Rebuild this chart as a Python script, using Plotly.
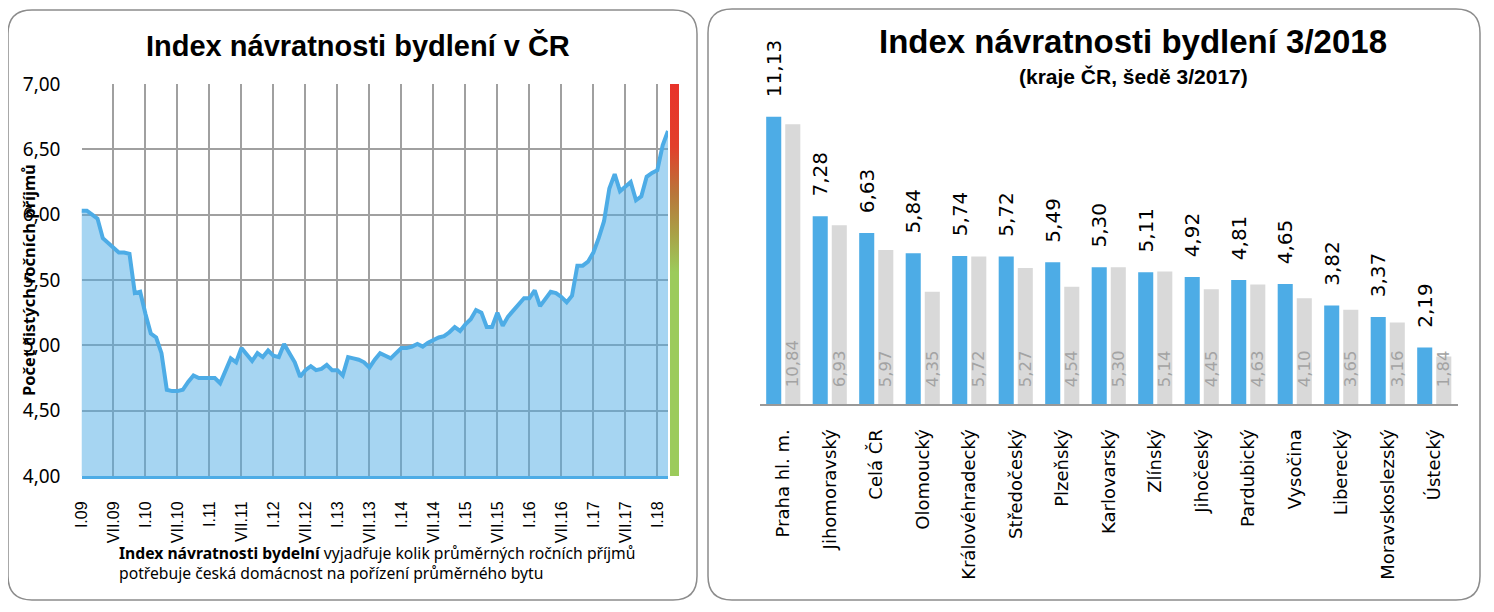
import plotly.graph_objects as go

W, H = 1494, 612
OFF = 8  # page body margin of the browser, figure sits 8px in from the corner

# --- left chart: monthly index I.09 .. III.18
index_monthly = [
    6.03, 6.03, 6.00, 5.97, 5.82, 5.78, 5.74, 5.71, 5.71, 5.70, 5.40, 5.41,
    5.24, 5.09, 5.06, 4.94, 4.66, 4.65, 4.65, 4.66, 4.72, 4.77, 4.75, 4.75,
    4.75, 4.75, 4.71, 4.80, 4.90, 4.87, 4.98, 4.93, 4.88, 4.94, 4.91, 4.96,
    4.92, 4.91, 5.01, 4.94, 4.87, 4.76, 4.81, 4.84, 4.81, 4.82, 4.85, 4.81,
    4.81, 4.77, 4.91, 4.90, 4.89, 4.87, 4.83, 4.89, 4.94, 4.92, 4.90, 4.94,
    4.98, 4.98, 4.99, 5.01, 4.99, 5.02, 5.04, 5.06, 5.07, 5.10, 5.14, 5.11,
    5.16, 5.20, 5.27, 5.25, 5.14, 5.14, 5.25, 5.15, 5.22, 5.27, 5.31, 5.36,
    5.36, 5.42, 5.30, 5.35, 5.41, 5.40, 5.37, 5.33, 5.38, 5.61, 5.61, 5.64,
    5.71, 5.82, 5.95, 6.20, 6.31, 6.18, 6.22, 6.25, 6.11, 6.14, 6.29, 6.32,
    6.34, 6.53, 6.64,
]
month_ticks = ["I.09", "VII.09", "I.10", "VII.10", "I.11", "VII.11", "I.12", "VII.12",
               "I.13", "VII.13", "I.14", "VII.14", "I.15", "VII.15", "I.16", "VII.16",
               "I.17", "VII.17", "I.18"]
y_ticks = [4.0, 4.5, 5.0, 5.5, 6.0, 6.5, 7.0]
band_lo, band_hi = 4.0, 7.0
band_colors = [[0, "#9CCB5B"], [0.52, "#9CCB5B"], [0.62, "#A9A046"],
               [0.72, "#B8763A"], [0.84, "#E2402B"], [1, "#E8332A"]]

# --- right chart: regions 3/2018 vs 3/2017
regions = ["Praha hl. m.", "Jihomoravský", "Celá ČR", "Olomoucký", "Královéhradecký",
           "Středočeský", "Plzeňský", "Karlovarský", "Zlínský", "Jihočeský",
           "Pardubický", "Vysočina", "Liberecký", "Moravskoslezský", "Ústecký"]
idx_2018 = [11.13, 7.28, 6.63, 5.84, 5.74, 5.72, 5.49, 5.30, 5.11, 4.92, 4.81, 4.65, 3.82, 3.37, 2.19]
idx_2017 = [10.84, 6.93, 5.97, 4.35, 5.72, 5.27, 4.54, 5.30, 5.14, 4.45, 4.63, 4.10, 3.65, 3.16, 1.84]

BLUE = "#4DACE6"
GRID = "#A0A0A0"
TITLE = "Liberation Sans Narrow, Arial Narrow, Liberation Sans, sans-serif"
BODY = "Noto Sans, Open Sans, sans-serif"
TICK = "Liberation Sans, Arial, sans-serif"

FW, FH = W - OFF, H - OFF


def px(x):
    return (x - OFF) / FW


def py(y):
    return 1 - (y - OFF) / FH


def rounded_box(x0, y0, x1, y1, r):
    rx, ry = r / FW, r / FH
    a0, a1, b0, b1 = px(x0), px(x1), py(y1), py(y0)
    return (f"M {a0 + rx},{b1} L {a1 - rx},{b1} Q {a1},{b1} {a1},{b1 - ry} "
            f"L {a1},{b0 + ry} Q {a1},{b0} {a1 - rx},{b0} "
            f"L {a0 + rx},{b0} Q {a0},{b0} {a0},{b0 + ry} "
            f"L {a0},{b1 - ry} Q {a0},{b1} {a0 + rx},{b1} Z")


fig = go.Figure()

fig.add_trace(go.Scatter(
    x=list(range(len(index_monthly))), y=index_monthly,
    mode="lines", line=dict(color=BLUE, width=4),
    fill="tozeroy", fillcolor="rgba(77,172,230,0.5)",
    xaxis="x", yaxis="y", showlegend=False, hoverinfo="skip",
))

# red-green scale band right of the line chart
fig.add_trace(go.Scatter(
    x=[0, 1, 1, 0, 0], y=[band_lo, band_lo, band_hi, band_hi, band_lo],
    mode="lines", line=dict(width=0), fill="toself",
    fillgradient=dict(type="vertical", colorscale=band_colors),
    xaxis="x3", yaxis="y", showlegend=False, hoverinfo="skip",
))

# leading no-break/thin spaces push the rotated labels away from the bar end
fig.add_trace(go.Bar(
    x=regions, y=idx_2018, xaxis="x2", yaxis="y2",
    marker=dict(color=BLUE, line=dict(width=0)),
    texttemplate="\u00a0\u00a0\u2009%{y:.2f}", textposition="outside", textangle=-90,
    outsidetextfont=dict(family="DejaVu Sans", size=20, color="black"),
    constraintext="none", cliponaxis=False, showlegend=False, hoverinfo="skip",
))
fig.add_trace(go.Bar(
    x=regions, y=idx_2017, xaxis="x2", yaxis="y2",
    marker=dict(color="#D9D9D9", line=dict(width=0)),
    texttemplate="\u00a0\u00a0\u2009%{y:.2f}", textposition="inside", insidetextanchor="start",
    textangle=-90,
    insidetextfont=dict(family="DejaVu Sans", size=16.5, color="#A3A3A3"),
    constraintext="none", cliponaxis=False, showlegend=False, hoverinfo="skip",
))

fig.update_layout(
    width=FW, height=FH, autosize=False,
    margin=dict(l=0, r=0, t=0, b=0, pad=0, autoexpand=False),
    paper_bgcolor="white", plot_bgcolor="white",
    separators=", ",
    barmode="group", bargap=0.18, bargroupgap=0.21,
    xaxis=dict(
        domain=[px(81.5), px(668)], range=[0, len(index_monthly) - 1],
        tickmode="array", tickvals=list(range(0, 6 * len(month_ticks), 6)), ticktext=month_ticks,
        tickangle=-90, tickfont=dict(family=TICK, size=16, color="black"),
        showgrid=True, gridcolor=GRID, gridwidth=1.5, zeroline=False,
        showline=True, linecolor=BLUE, linewidth=3, ticklabelstandoff=16,
        anchor="y", automargin=False, fixedrange=True,
    ),
    yaxis=dict(
        domain=[py(476), py(84)], range=[band_lo, band_hi],
        tickmode="array", tickvals=y_ticks, tickformat=".2f",
        tickfont=dict(family=BODY, size=19, color="black"),
        showgrid=True, gridcolor=GRID, gridwidth=1.5, zeroline=False,
        ticklabelstandoff=20, anchor="x", automargin=False, fixedrange=True,
    ),
    xaxis3=dict(domain=[px(670), px(679)], range=[0, 1], visible=False,
                anchor="y", automargin=False),
    xaxis2=dict(
        domain=[px(760), px(1457.5)], anchor="y2",
        tickangle=-90, tickfont=dict(family="DejaVu Sans", size=18, color="black"),
        showline=True, linecolor="#999999", linewidth=2, showgrid=False,
        ticks="", ticklabelstandoff=16, automargin=False,
    ),
    yaxis2=dict(
        domain=[py(404), py(30)], range=[0, 374 / 25.8], anchor="x2",
        visible=False, showgrid=False, automargin=False,
    ),
    shapes=[
        dict(type="path", xref="paper", yref="paper", path=rounded_box(8, 10, 697, 600, 24),
             line=dict(color="#8C8C8C", width=1.5)),
        dict(type="path", xref="paper", yref="paper", path=rounded_box(708, 9, 1480, 600, 24),
             line=dict(color="#8C8C8C", width=1.5)),
    ],
    annotations=[
        dict(text="<b>Index návratnosti bydlení v ČR</b>", x=px(358), y=py(46),
             xref="paper", yref="paper", showarrow=False, xanchor="center", yanchor="middle",
             font=dict(family=TITLE, size=29, color="black")),
        dict(text="<b>Počet čistých ročních příjmů</b>", x=px(28), y=py(280),
             xref="paper", yref="paper", showarrow=False, textangle=-90,
             xanchor="center", yanchor="middle",
             font=dict(family=BODY, size=16.5, color="black")),
        dict(text="<b>Index návratnosti bydelní</b> vyjadřuje kolik průměrných ročních příjmů<br>"
                  "potřebuje česká domácnost na pořízení průměrného bytu",
             x=px(117), y=py(540), xref="paper", yref="paper", showarrow=False,
             xanchor="left", yanchor="top", align="left",
             font=dict(family=BODY, size=15.7, color="black")),
        dict(text="<b>Index návratnosti bydlení 3/2018</b>", x=px(1133), y=py(42),
             xref="paper", yref="paper", showarrow=False, xanchor="center", yanchor="middle",
             font=dict(family=TITLE, size=33, color="black")),
        dict(text="<b>(kraje ČR, šedě 3/2017)</b>", x=px(1133), y=py(77),
             xref="paper", yref="paper", showarrow=False, xanchor="center", yanchor="middle",
             font=dict(family=TITLE, size=21, color="black")),
    ],
)

fig.write_html("out.html")
